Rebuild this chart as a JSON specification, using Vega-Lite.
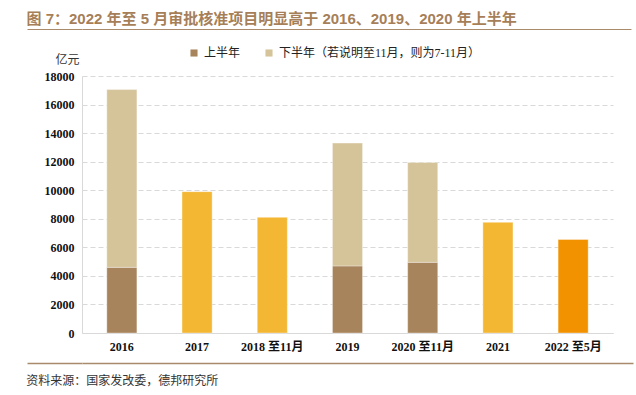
{
  "$schema": "https://vega.github.io/schema/vega-lite/v6.json",
  "background": "white",
  "padding": {"left": 26, "top": 12, "right": 4, "bottom": 2},
  "spacing": 10,
  "resolve": {"legend": {"color": "independent"}},
  "config": {
    "font": "Liberation Serif, Noto Sans CJK SC",
    "view": {"stroke": null}
  },
  "vconcat": [
    {
      "spacing": 17,
      "resolve": {"legend": {"color": "independent"}},
      "vconcat": [
        {
          "width": 549,
          "height": 1,
          "title": {
            "text": "图 7：2022 年至 5 月审批核准项目明显高于 2016、2019、2020 年上半年",
            "anchor": "start",
            "font": "Liberation Sans, Noto Sans CJK SC",
            "fontSize": 15,
            "fontWeight": "bold",
            "color": "#A67F58",
            "offset": 1
          },
          "data": {"values": []},
          "mark": "rule",
          "encoding": {
            "x": {"field": "v", "type": "quantitative", "scale": {"domain": [0, 1]},
                  "axis": {"title": null, "labels": false, "ticks": false, "grid": false, "domainColor": "#A98B6B", "domainWidth": 1}},
            "y": {"field": "w", "type": "quantitative", "scale": {"domain": [0, 1]},
                  "axis": {"title": null, "labels": false, "domain": false, "grid": false, "values": [0], "tickSize": 55, "tickColor": "#A98B6B", "tickWidth": 1}}
          }
        },
        {
          "width": 531,
          "height": 257,
          "data": {
            "values": [
              {"period": "2016", "series": "上半年", "value": 4600},
              {"period": "2016", "series": "下半年（若说明至11月，则为7-11月）", "value": 12450},
              {"period": "2017", "series": "全年", "value": 9900},
              {"period": "2018 至11月", "series": "全年", "value": 8100},
              {"period": "2019", "series": "上半年", "value": 4700},
              {"period": "2019", "series": "下半年（若说明至11月，则为7-11月）", "value": 8600},
              {"period": "2020 至11月", "series": "上半年", "value": 4950},
              {"period": "2020 至11月", "series": "下半年（若说明至11月，则为7-11月）", "value": 7000},
              {"period": "2021", "series": "全年", "value": 7750},
              {"period": "2022 至5月", "series": "2022年1-5月", "value": 6550}
            ]
          },
          "mark": {"type": "bar", "stroke": "white", "strokeWidth": 0.6, "strokeOpacity": 0.6},
          "encoding": {
            "x": {
              "field": "period",
              "type": "nominal",
              "sort": null,
              "scale": {"paddingInner": 0.6, "paddingOuter": 0.33},
              "axis": {
                "title": null,
                "labelAngle": 0,
                "ticks": false,
                "domainColor": "#D9D9D9",
                "labelPadding": 8,
                "labelFont": "Liberation Serif, Noto Sans CJK SC",
                "labelFontWeight": "bold",
                "labelFontSize": 12,
                "labelColor": "#111111"
              }
            },
            "y": {
              "field": "value",
              "type": "quantitative",
              "stack": "zero",
              "scale": {"domain": [0, 18000], "nice": false},
              "axis": {
                "values": [0, 2000, 4000, 6000, 8000, 10000, 12000, 14000, 16000, 18000],
                "format": "d",
                "grid": true,
                "gridDash": [5, 3],
                "gridColor": "#D9D9D9",
                "domainColor": "#D9D9D9",
                "ticks": false,
                "labelPadding": 8,
                "labelFont": "Liberation Serif",
                "labelFontWeight": "bold",
                "labelFontSize": 12,
                "labelColor": "#111111",
                "minExtent": 55,
                "title": "亿元",
                "titleAngle": 0,
                "titleX": -15,
                "titleY": -17,
                "titleAlign": "center",
                "titleBaseline": "middle",
                "titleFont": "Liberation Serif, Noto Sans CJK SC",
                "titleFontWeight": "normal",
                "titleFontSize": 12,
                "titleColor": "#333333"
              }
            },
            "color": {
              "field": "series",
              "type": "nominal",
              "scale": {
                "domain": ["上半年", "下半年（若说明至11月，则为7-11月）", "全年", "2022年1-5月"],
                "range": ["#A8845C", "#D5C39A", "#F3B733", "#F39200"]
              },
              "legend": {
                "values": ["上半年", "下半年（若说明至11月，则为7-11月）"],
                "orient": "none",
                "legendX": 106,
                "legendY": -29,
                "direction": "horizontal",
                "title": null,
                "padding": 0,
                "symbolType": "square",
                "symbolSize": 50,
                "symbolStrokeWidth": 0,
                "labelFont": "Liberation Serif, Noto Sans CJK SC",
                "labelFontSize": 12,
                "labelColor": "#222222",
                "labelOffset": 4,
                "labelLimit": 400,
                "columnPadding": 22
              }
            },
            "order": {"field": "series", "sort": "ascending"}
          }
        }
      ]
    },
    {
      "width": 551,
      "height": 1,
      "title": {
        "text": "资料来源：国家发改委，德邦研究所",
        "orient": "bottom",
        "anchor": "start",
        "font": "Liberation Serif, Noto Sans CJK SC",
        "fontSize": 12,
        "fontWeight": "normal",
        "color": "#333333",
        "offset": 12
      },
      "data": {"values": []},
      "mark": "rule",
      "encoding": {
        "x": {"field": "v", "type": "quantitative", "scale": {"domain": [0, 1]},
              "axis": {"title": null, "labels": false, "ticks": false, "grid": false, "domainColor": "#A98B6B", "domainWidth": 1.5}},
        "y": {"field": "w", "type": "quantitative", "scale": {"domain": [0, 1]},
              "axis": {"title": null, "labels": false, "domain": false, "grid": false, "values": [0], "tickSize": 55, "tickColor": "#A98B6B", "tickWidth": 1.5}}
      }
    }
  ]
}
